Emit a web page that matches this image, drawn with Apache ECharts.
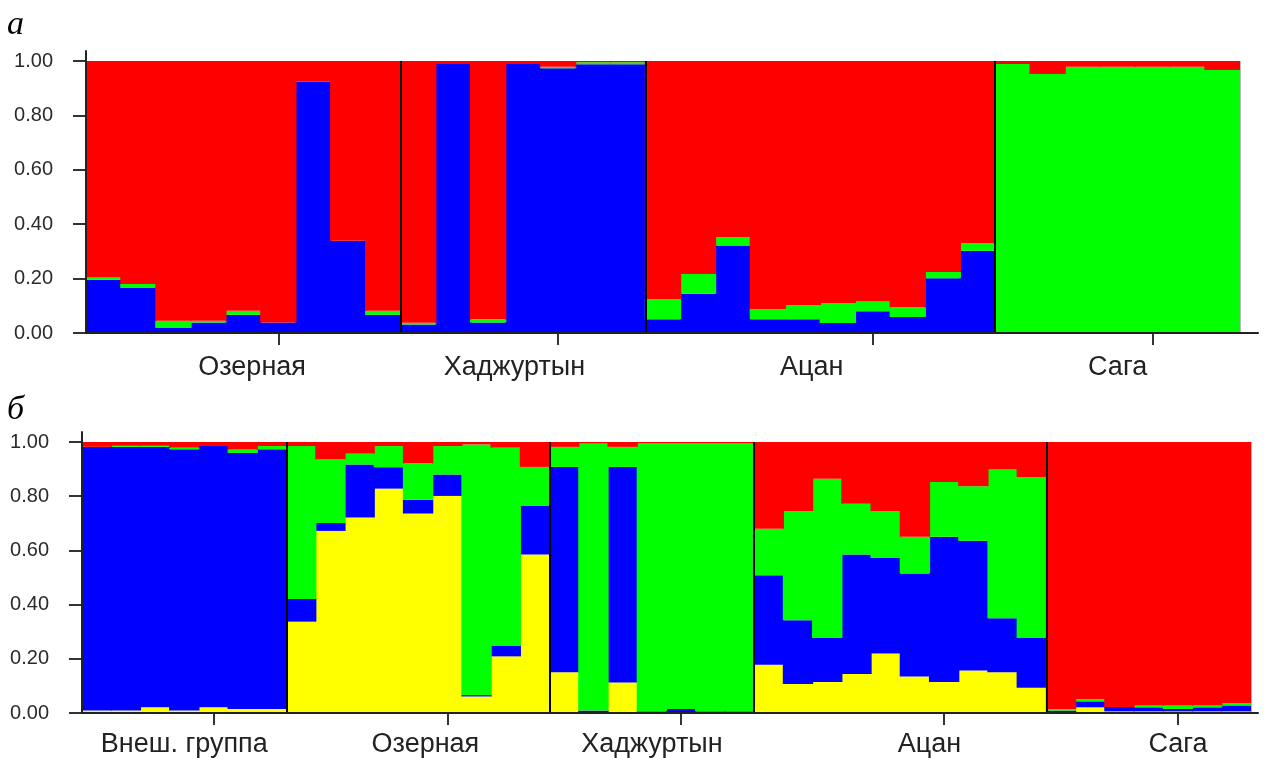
<!DOCTYPE html>
<html><head><meta charset="utf-8">
<script src="https://cdn.jsdelivr.net/npm/echarts@6/dist/echarts.min.js"></script>
<style>html,body{margin:0;padding:0;background:#fff}#c{width:1264px;height:758px}</style>
</head><body><div id="c"></div>
<script>
// ---------- Panel а (K = 3) ----------
const groupsA = ['Озерная', 'Хаджуртын', 'Ацан', 'Сага'];
const sizesA  = [9, 7, 10, 7];
const blueA  = [0.196,0.165,0.018,0.039,0.067,0.039,0.924,0.339,0.067,
                0.031,0.989,0.039,0.989,0.973,0.988,0.988,
                0.051,0.144,0.322,0.051,0.051,0.037,0.080,0.059,0.201,0.302,
                0,0,0,0,0,0,0];
const greenA = [0.008,0.015,0.027,0.006,0.015,0.000,0.000,0.000,0.015,
                0.007,0.000,0.012,0.000,0.006,0.007,0.007,
                0.074,0.073,0.031,0.037,0.052,0.073,0.036,0.036,0.023,0.028,
                0.989,0.952,0.979,0.979,0.979,0.979,0.967];
const redA   = [0.796,0.820,0.955,0.955,0.918,0.961,0.076,0.661,0.918,
                0.962,0.011,0.949,0.011,0.021,0.005,0.005,
                0.875,0.783,0.647,0.912,0.897,0.890,0.884,0.905,0.776,0.670,
                0.011,0.048,0.021,0.021,0.021,0.021,0.033];

// ---------- Panel б (K = 4) ----------
const groupsB = ['Внеш. группа', 'Озерная', 'Хаджуртын', 'Ацан', 'Сага'];
const sizesB  = [7, 9, 7, 10, 7];
const yellowB = [0.009,0.009,0.021,0.009,0.021,0.015,0.015,
                 0.337,0.672,0.721,0.828,0.736,0.801,0.061,0.209,0.585,
                 0.150,0,0.113,0,0,0,0,
                 0.178,0.107,0.114,0.144,0.220,0.135,0.114,0.157,0.150,0.093,
                 0.002,0.021,0.006,0.006,0.006,0.006,0.006];
const blueB   = [0.973,0.973,0.961,0.964,0.964,0.945,0.958,
                 0.084,0.029,0.196,0.079,0.051,0.079,0.005,0.040,0.179,
                 0.758,0.009,0.795,0.006,0.015,0.006,0.006,
                 0.330,0.235,0.163,0.441,0.352,0.380,0.536,0.479,0.200,0.184,
                 0.007,0.022,0.016,0.015,0.009,0.015,0.022];
const greenB  = [0,0.004,0.004,0.006,0,0.012,0.012,
                 0.564,0.235,0.040,0.078,0.134,0.105,0.925,0.730,0.144,
                 0.074,0.985,0.074,0.990,0.981,0.990,0.990,
                 0.172,0.403,0.587,0.187,0.173,0.135,0.202,0.201,0.549,0.594,
                 0.006,0.009,0,0.007,0.013,0.007,0.009];
const redB    = [0.018,0.014,0.014,0.021,0.015,0.028,0.015,
                 0.015,0.064,0.043,0.015,0.079,0.015,0.009,0.021,0.092,
                 0.018,0.006,0.018,0.004,0.004,0.004,0.004,
                 0.320,0.255,0.136,0.228,0.255,0.350,0.148,0.163,0.101,0.129,
                 0.985,0.948,0.978,0.972,0.972,0.972,0.963];

// ---------- layout / style ----------
const SUB = 4; // fine label axis: quarter-bar slots
const COLORS = {red:'#ff0000', green:'#00ff00', blue:'#0000ff', yellow:'#ffff00'};
const FONT = 'Liberation Sans, Arial, sans-serif';
const panels = [
  {sizes:sizesA, groups:groupsA, slots:[19,49,83,118],
   layers:[['blue',blueA],['green',greenA],['red',redA]],
   grid:{left:86,right:24,top:61,bottom:425}, axisTop:51, labelMargin:21, title:'а', titleTop:8},
  {sizes:sizesB, groups:groupsB, slots:[14,47,78,116,150],
   layers:[['yellow',yellowB],['blue',blueB],['green',greenB],['red',redB]],
   grid:{left:82,right:13,top:442,bottom:45}, axisTop:432, labelMargin:18, title:'б', titleTop:393}
];

const option = {animation:false, backgroundColor:'#fff', title:[], grid:[], xAxis:[], yAxis:[], series:[]};

panels.forEach((p, pi) => {
  const b = [0]; p.sizes.forEach(s => b.push(b[b.length-1] + s));
  const N = b[b.length-1];
  const cats = Array.from({length:N}, (_, i) => 'i' + (i+1));
  const fine = Array.from({length:N*SUB+1}, (_, i) => 'f' + i);
  const tickSet = new Set(p.sizes.map((n, i) => b[i] + Math.floor(n/2) + 1));
  const labelMap = {}; p.slots.forEach((s, i) => labelMap[s] = p.groups[i]);

  option.title.push({text:p.title, left:7, top:p.titleTop, padding:0,
    textStyle:{fontFamily:'Liberation Serif, Times New Roman, serif', fontStyle:'italic',
               fontWeight:'normal', fontSize:34, color:'#000'}});

  // main grid
  const g = option.grid.length;
  option.grid.push(Object.assign({containLabel:false}, p.grid));
  // decor grid (axis lines that run beyond the plot)
  const gd = option.grid.length;
  option.grid.push({left:p.grid.left, right:6, top:p.axisTop, bottom:p.grid.bottom});

  const xMain = option.xAxis.length;
  option.xAxis.push({gridIndex:g, type:'category', data:cats, boundaryGap:true, position:'bottom',
    axisLine:{show:false}, axisLabel:{show:false}, splitLine:{show:false},
    axisTick:{show:true, alignWithLabel:true, interval:(i) => tickSet.has(i), length:12,
              lineStyle:{color:'#333', width:2}}});
  const xFine = option.xAxis.length;
  option.xAxis.push({gridIndex:g, type:'category', data:fine, boundaryGap:false, position:'bottom',
    axisLine:{show:false}, axisTick:{show:false}, splitLine:{show:false},
    axisLabel:{interval:(i) => (i in labelMap), formatter:(v, i) => labelMap[i] || '',
               margin:p.labelMargin, fontSize:27, color:'#222', fontFamily:FONT}});
  option.xAxis.push({gridIndex:gd, type:'value', min:0, max:1, z:5,
    axisLine:{show:true, onZero:false, lineStyle:{color:'#222', width:2}},
    axisTick:{show:false}, axisLabel:{show:false}, splitLine:{show:false}});

  const yMain = option.yAxis.length;
  option.yAxis.push({gridIndex:g, type:'value', min:0, max:1, interval:0.2,
    axisLine:{show:false}, splitLine:{show:false},
    axisTick:{show:true, length:13, lineStyle:{color:'#333', width:2}},
    axisLabel:{margin:33, fontSize:20, color:'#2a2a2a', fontFamily:FONT, formatter:(v) => v.toFixed(2)}});
  option.yAxis.push({gridIndex:gd, type:'value', min:0, max:1, z:5,
    axisLine:{show:true, onZero:false, lineStyle:{color:'#222', width:2}},
    axisTick:{show:false}, axisLabel:{show:false}, splitLine:{show:false}});

  p.layers.forEach(([name, data]) => {
    option.series.push({type:'bar', name, xAxisIndex:xMain, yAxisIndex:yMain, stack:'s'+pi,
      data, barWidth:'104%', silent:true,
      itemStyle:{color:COLORS[name]}});
  });

  // population separators
  option.series.push({type:'line', xAxisIndex:xFine, yAxisIndex:yMain, data:fine.map(() => null),
    silent:true, z:10, showSymbol:false,
    markLine:{silent:true, symbol:['none','none'], label:{show:false}, animation:false,
      lineStyle:{color:'#000', width:2, type:'solid'},
      data: b.slice(1, -1).map(k => ({xAxis: k*SUB}))
        .concat([{xAxis: N*SUB, lineStyle:{color:'#bbb', width:1, type:'solid'}}])}});
});

const chart = echarts.init(document.getElementById('c'), null, {renderer:'canvas'});
chart.setOption(option);
</script></body></html>
